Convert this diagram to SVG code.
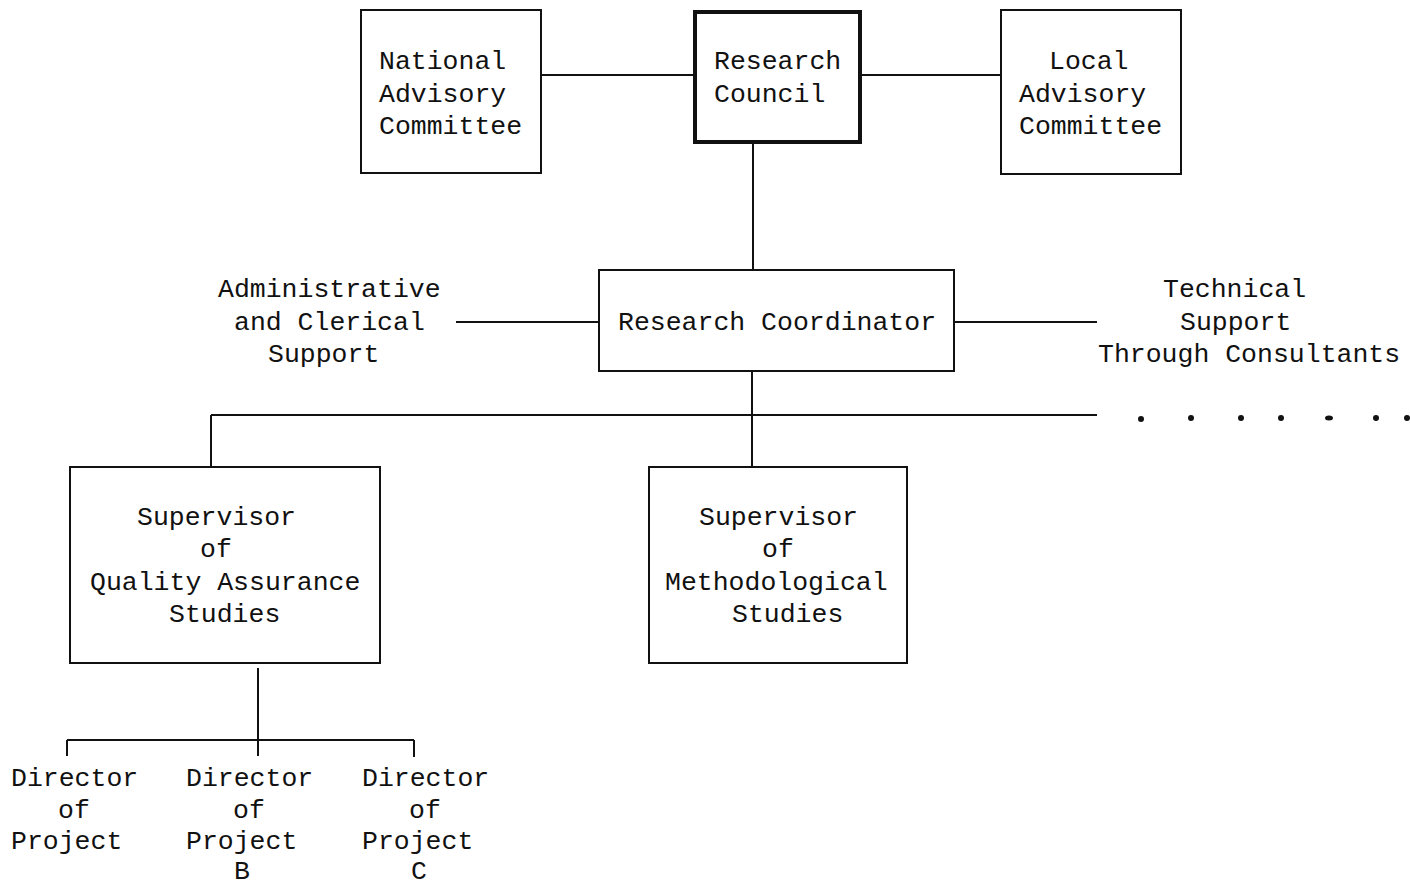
<svg xmlns="http://www.w3.org/2000/svg" width="1410" height="887" viewBox="0 0 1410 887">
<style>
text{font-family:"Liberation Mono","DejaVu Sans Mono",monospace;font-size:26.5px;fill:#111}
.box{fill:#fff;stroke:#111;stroke-width:2}
.thick{fill:#fff;stroke:#111;stroke-width:4}
.ln{stroke:#111;stroke-width:2;fill:none}
</style>
<rect width="1410" height="887" fill="#fff"/>
<g id="connectors">
<line class="ln" x1="541" y1="75" x2="694" y2="75"/>
<line class="ln" x1="861" y1="75" x2="1001" y2="75"/>
<line class="ln" x1="753" y1="142" x2="753" y2="270"/>
<line class="ln" x1="456" y1="322" x2="599" y2="322"/>
<line class="ln" x1="954" y1="322" x2="1097" y2="322"/>
<line class="ln" x1="752" y1="371" x2="752" y2="467"/>
<line class="ln" x1="211" y1="415" x2="1097" y2="415"/>
<line class="ln" x1="211" y1="415" x2="211" y2="467"/>
<g fill="#111">
<circle cx="1141" cy="419" r="3"/>
<circle cx="1191" cy="418" r="3"/>
<circle cx="1241" cy="418" r="3"/>
<circle cx="1281" cy="418" r="3"/>
<ellipse cx="1329" cy="418" rx="4" ry="2.5"/>
<circle cx="1376" cy="418" r="3"/>
<circle cx="1407" cy="418" r="3"/>
</g>
<line class="ln" x1="258" y1="668" x2="258" y2="756"/>
<line class="ln" x1="67" y1="740" x2="414" y2="740"/>
<line class="ln" x1="67" y1="740" x2="67" y2="756"/>
<line class="ln" x1="414" y1="740" x2="414" y2="757"/>
</g>
<g id="national">
<rect class="box" x="361" y="10" width="180" height="163"/>
<text x="379" y="69">National</text>
<text x="379" y="102">Advisory</text>
<text x="379" y="134">Committee</text>
</g>
<g id="council">
<rect class="thick" x="695" y="12" width="165" height="130"/>
<text x="714" y="69">Research</text>
<text x="714" y="102">Council</text>
</g>
<g id="local">
<rect class="box" x="1001" y="10" width="180" height="164"/>
<text x="1049" y="69">Local</text>
<text x="1019" y="102">Advisory</text>
<text x="1019" y="134">Committee</text>
</g>
<g id="coordinator">
<rect class="box" x="599" y="270" width="355" height="101"/>
<text x="618" y="330">Research Coordinator</text>
</g>
<g id="admin">
<text x="218" y="297">Administrative</text>
<text x="234" y="330">and Clerical</text>
<text x="268" y="362">Support</text>
</g>
<g id="technical">
<text x="1163" y="297">Technical</text>
<text x="1180" y="330">Support</text>
<text x="1098" y="362">Through Consultants</text>
</g>
<g id="quality">
<rect class="box" x="70" y="467" width="310" height="196"/>
<text x="137" y="525">Supervisor</text>
<text x="200" y="557">of</text>
<text x="90" y="590">Quality Assurance</text>
<text x="169" y="622">Studies</text>
</g>
<g id="methodological">
<rect class="box" x="649" y="467" width="258" height="196"/>
<text x="699" y="525">Supervisor</text>
<text x="762" y="557">of</text>
<text x="665" y="590">Methodological</text>
<text x="732" y="622">Studies</text>
</g>
<g id="directorA">
<text x="11" y="786">Director</text>
<text x="58" y="818">of</text>
<text x="11" y="849">Project</text>
</g>
<g id="directorB">
<text x="186" y="786">Director</text>
<text x="233" y="818">of</text>
<text x="186" y="849">Project</text>
<text x="234" y="879">B</text>
</g>
<g id="directorC">
<text x="362" y="786">Director</text>
<text x="409" y="818">of</text>
<text x="362" y="849">Project</text>
<text x="411" y="879">C</text>
</g>
</svg>
